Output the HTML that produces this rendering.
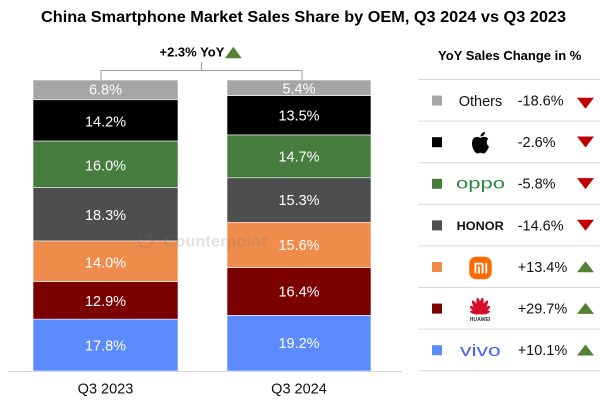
<!DOCTYPE html>
<html>
<head>
<meta charset="utf-8">
<style>
  html, body { margin: 0; padding: 0; background: #ffffff; }
  body { width: 600px; height: 402px; overflow: hidden; }
  svg { display: block; font-family: "Liberation Sans", Arial, sans-serif; }
</style>
</head>
<body>
<svg width="600" height="402" viewBox="0 0 600 402" xmlns="http://www.w3.org/2000/svg">
  <rect x="0" y="0" width="600" height="402" fill="#ffffff"/>

  <!-- Title -->
  <text x="41" y="22" font-size="16" font-weight="bold" fill="#000" textLength="525" lengthAdjust="spacingAndGlyphs">China Smartphone Market Sales Share by OEM, Q3 2024 vs Q3 2023</text>

  <!-- YoY bracket -->
  <text x="159.5" y="56.5" font-size="13" font-weight="bold" fill="#000">+2.3% YoY</text>
  <polygon points="225,58.3 241.7,58.3 233.3,46.7" fill="#548235"/>
  <path d="M101,80 V70.5 H302 V80 M201.5,70.5 V62" fill="none" stroke="#a6a6a6" stroke-width="1.2"/>

  <!-- Bar 1 (Q3 2023) -->
  <g stroke="#ffffff" stroke-width="0.6">
    <rect x="33" y="80" width="145" height="19.8" fill="#a5a5a5"/>
    <rect x="33" y="99.8" width="145" height="41.3" fill="#000000"/>
    <rect x="33" y="141.1" width="145" height="46.6" fill="#467d3e"/>
    <rect x="33" y="187.7" width="145" height="53.3" fill="#4d4e50"/>
    <rect x="33" y="241" width="145" height="40.7" fill="#ef8c4c"/>
    <rect x="33" y="281.7" width="145" height="37.5" fill="#7b0000"/>
    <rect x="33" y="319.2" width="145" height="51.8" fill="#5b8bff"/>
  </g>
  <g font-size="14.5" fill="#ffffff" text-anchor="middle">
    <text x="105.5" y="94.5">6.8%</text>
    <text x="105.5" y="126.5">14.2%</text>
    <text x="105.5" y="170.5">16.0%</text>
    <text x="105.5" y="220">18.3%</text>
    <text x="105.5" y="267.3">14.0%</text>
    <text x="105.5" y="306">12.9%</text>
    <text x="105.5" y="350.5">17.8%</text>
  </g>

  <!-- Bar 2 (Q3 2024) -->
  <g stroke="#ffffff" stroke-width="0.6">
    <rect x="227" y="80" width="144" height="15.7" fill="#a5a5a5"/>
    <rect x="227" y="95.7" width="144" height="39.3" fill="#000000"/>
    <rect x="227" y="135" width="144" height="42.8" fill="#467d3e"/>
    <rect x="227" y="177.8" width="144" height="44.5" fill="#4d4e50"/>
    <rect x="227" y="222.3" width="144" height="45.4" fill="#ef8c4c"/>
    <rect x="227" y="267.7" width="144" height="47.7" fill="#7b0000"/>
    <rect x="227" y="315.4" width="144" height="55.6" fill="#5b8bff"/>
  </g>
  <g font-size="14.5" fill="#ffffff" text-anchor="middle">
    <text x="299" y="93.5">5.4%</text>
    <text x="299" y="120.5">13.5%</text>
    <text x="299" y="161.7">14.7%</text>
    <text x="299" y="205">15.3%</text>
    <text x="299" y="250">15.6%</text>
    <text x="299" y="296.5">16.4%</text>
    <text x="299" y="348">19.2%</text>
  </g>

  <!-- Watermark -->
  <g opacity="0.2" fill="#707070">
    <circle cx="145.5" cy="240.5" r="7" fill="none" stroke="#707070" stroke-width="2.6" stroke-dasharray="36 8" transform="rotate(-60 145.5 240.5)"/>
    <circle cx="146.5" cy="236.5" r="1.6"/>
    <text x="163.5" y="246.5" font-size="15.5" font-weight="bold" textLength="103" lengthAdjust="spacingAndGlyphs">Counterpoint</text>
  </g>

  <!-- Axis line -->
  <line x1="8" y1="371.5" x2="402" y2="371.5" stroke="#d9d9d9" stroke-width="1"/>

  <!-- Category labels -->
  <g font-size="14.5" fill="#111" text-anchor="middle">
    <text x="105.5" y="393.5">Q3 2023</text>
    <text x="299" y="393.5">Q3 2024</text>
  </g>

  <!-- Legend title -->
  <text x="509.7" y="60" font-size="13" font-weight="bold" fill="#000" text-anchor="middle">YoY Sales Change in %</text>

  <!-- Legend separators -->
  <g stroke="#d9d9d9" stroke-width="1">
    <line x1="418" y1="79.5" x2="600" y2="79.5"/>
    <line x1="418" y1="121.1" x2="600" y2="121.1"/>
    <line x1="418" y1="162.7" x2="600" y2="162.7"/>
    <line x1="418" y1="204.3" x2="600" y2="204.3"/>
    <line x1="418" y1="245.9" x2="600" y2="245.9"/>
    <line x1="418" y1="287.5" x2="600" y2="287.5"/>
    <line x1="418" y1="329.1" x2="600" y2="329.1"/>
    <line x1="418" y1="370.7" x2="600" y2="370.7"/>
  </g>

  <!-- Legend squares -->
  <rect x="432" y="95.6" width="10" height="10" fill="#a5a5a5"/>
  <rect x="432" y="137.2" width="10" height="10" fill="#000000"/>
  <rect x="432" y="178.8" width="10" height="10" fill="#467d3e"/>
  <rect x="432" y="220.4" width="10" height="10" fill="#4d4e50"/>
  <rect x="432" y="262" width="10" height="10" fill="#ef8c4c"/>
  <rect x="432" y="303.6" width="10" height="10" fill="#7b0000"/>
  <rect x="432" y="345.2" width="10" height="10" fill="#5b8bff"/>

  <!-- Legend brand labels/logos -->
  <text x="480.5" y="106" font-size="14.5" fill="#111" text-anchor="middle">Others</text>

  <!-- Apple logo -->
  <g transform="translate(480.5,143)" fill="#000">
    <path d="M0,-5 C-2,-6.5 -8.5,-7.5 -8.5,0.5 C-8.5,6 -5,10.5 -3,10.5 C-1.5,10.5 -1,9.7 0,9.7 C1,9.7 1.5,10.5 3,10.5 C5,10.5 7.5,6.5 8.5,3.5 C6,2.5 5.5,-2.5 7.8,-4.2 C6,-6.8 2,-6.5 0,-5 Z"/>
    <path d="M0,-6.5 C0,-9 2,-11 4.5,-11 C4.5,-8.5 2.5,-6.5 0,-6.5 Z"/>
  </g>

  <!-- OPPO -->
  <text x="456" y="188.5" font-size="15.5" fill="#2a8a3e" textLength="49" lengthAdjust="spacingAndGlyphs">oppo</text>

  <!-- HONOR -->
  <text x="456.7" y="230" font-size="12" font-weight="bold" fill="#111" textLength="47" lengthAdjust="spacingAndGlyphs">HONOR</text>

  <!-- Mi logo -->
  <rect x="469.2" y="256.7" width="22.5" height="22.5" rx="7" fill="#ff6900"/>
  <g fill="#ffffff">
    <path d="M474.5,273.5 V262.8 H481.5 Q483.5,262.8 483.5,264.8 V273.5 H481.6 V265 Q481.6,264.6 481.2,264.6 H476.4 V273.5 Z"/>
    <rect x="478.1" y="266.4" width="1.8" height="7.1"/>
    <rect x="485.3" y="262.8" width="1.9" height="10.7"/>
  </g>

  <!-- Huawei logo -->
  <g fill="#d40f2c">
    <ellipse cx="480" cy="305.5" rx="2.1" ry="8" transform="rotate(-9 480 313.5)"/>
    <ellipse cx="480" cy="305.5" rx="2.1" ry="8" transform="rotate(9 480 313.5)"/>
    <ellipse cx="480" cy="306" rx="2.1" ry="7.5" transform="rotate(-31 480 313.5)"/>
    <ellipse cx="480" cy="306" rx="2.1" ry="7.5" transform="rotate(31 480 313.5)"/>
    <ellipse cx="480" cy="307.3" rx="2" ry="6.2" transform="rotate(-54 480 313.5)"/>
    <ellipse cx="480" cy="307.3" rx="2" ry="6.2" transform="rotate(54 480 313.5)"/>
    <ellipse cx="480" cy="308.5" rx="1.8" ry="5.2" transform="rotate(-78 480 313.5)"/>
    <ellipse cx="480" cy="308.5" rx="1.8" ry="5.2" transform="rotate(78 480 313.5)"/>
  </g>
  <text x="480" y="321" font-size="5.2" font-weight="bold" fill="#333" text-anchor="middle">HUAWEI</text>

  <!-- vivo -->
  <text x="460" y="356" font-size="17" fill="#415fff" textLength="40.7" lengthAdjust="spacingAndGlyphs">vivo</text>

  <!-- Legend percentages -->
  <g font-size="14.5" fill="#111">
    <text x="517.7" y="105.5">-18.6%</text>
    <text x="517.7" y="147.1">-2.6%</text>
    <text x="517.7" y="188.7">-5.8%</text>
    <text x="517.7" y="230.3">-14.6%</text>
    <text x="517.7" y="271.9">+13.4%</text>
    <text x="517.7" y="313.5">+29.7%</text>
    <text x="517.7" y="355.1">+10.1%</text>
  </g>

  <!-- Legend triangles -->
  <g fill="#c00000">
    <polygon points="577,97.8 594,97.8 585.5,108.8"/>
    <polygon points="577,136.5 594,136.5 585.5,147.5"/>
    <polygon points="577,178.1 594,178.1 585.5,189.1"/>
    <polygon points="577,219.7 594,219.7 585.5,230.7"/>
  </g>
  <g fill="#548235">
    <polygon points="577,272.3 594,272.3 585.5,261.3"/>
    <polygon points="577,313.9 594,313.9 585.5,302.9"/>
    <polygon points="577,355.5 594,355.5 585.5,344.5"/>
  </g>
</svg>
</body>
</html>
